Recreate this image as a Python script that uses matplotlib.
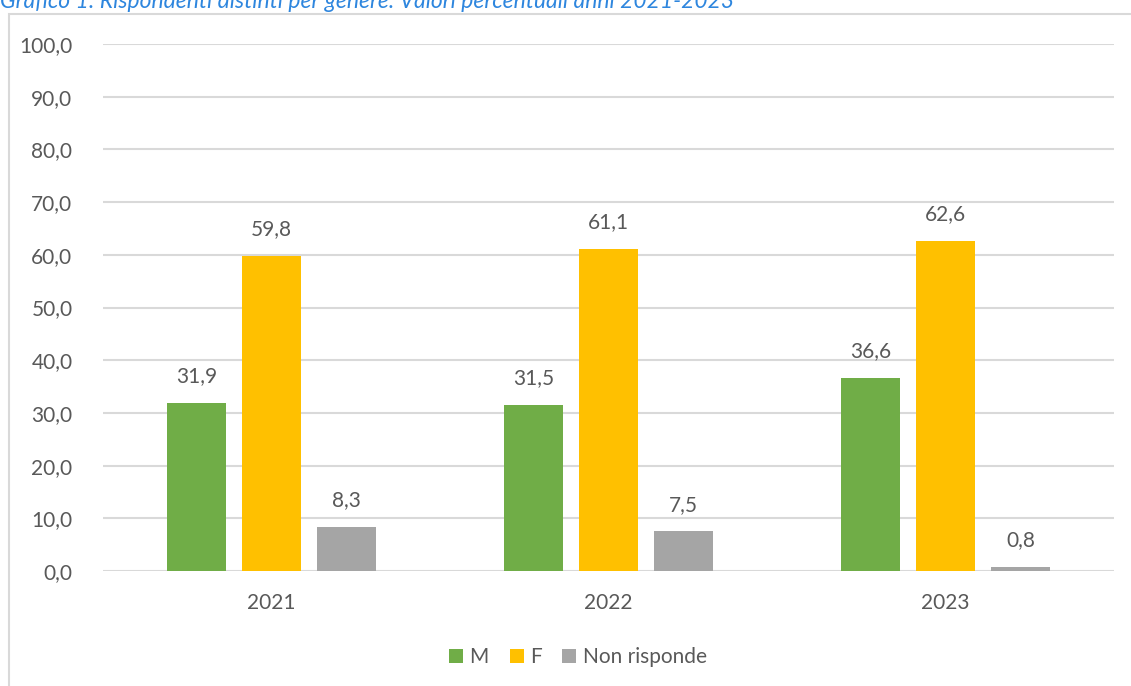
import matplotlib
matplotlib.use("Agg")
import matplotlib.pyplot as plt
from matplotlib.patches import Rectangle, Patch
import numpy as np

# Data
years = ["2021", "2022", "2023"]
series_names = ["M", "F", "Non risponde"]
m_vals = [31.9, 31.5, 36.6]
f_vals = [59.8, 61.1, 62.6]
nr_vals = [8.3, 7.5, 0.8]
y_ticks = [0, 10, 20, 30, 40, 50, 60, 70, 80, 90, 100]
title = "Grafico 1: Rispondenti distinti per genere. Valori percentuali anni 2021-2023"

colors = ["#70AD47", "#FFC000", "#A5A5A5"]
text_color = "#595959"
grid_color = "#D9D9D9"
fs = 15

plt.rcParams["font.family"] = ["Lato", "DejaVu Sans"]

W, H = 1131, 686
fig = plt.figure(figsize=(W / 100, H / 100), dpi=100)

# chart frame
fig.patches.append(Rectangle((9 / W, -0.1), 1.2, (H - 14) / H + 0.1,
                             transform=fig.transFigure, fill=False,
                             edgecolor=grid_color, linewidth=1.5))

# title, running over the top edge
fig.text(0.0, 1 - 8.5 / H, title, ha="left", va="baseline",
         fontsize=16.5, style="italic", color="#2E86DE")

ax = fig.add_axes([103 / W, 1 - 571 / H, (1114 - 103) / W, (571 - 44) / H])

def fmt(v):
    return f"{v:.1f}".replace(".", ",")

x = np.arange(len(years))
width = 0.175
step = 0.222
all_vals = [m_vals, f_vals, nr_vals]
for i, (vals, name, c) in enumerate(zip(all_vals, series_names, colors)):
    pos = x + (i - 1) * step
    bars = ax.bar(pos, vals, width=width, color=c, label=name, zorder=3)
    for b, v in zip(bars, vals):
        ax.annotate(fmt(v), (b.get_x() + b.get_width() / 2, v),
                    xytext=(0, 12), textcoords="offset points",
                    ha="center", va="bottom", fontsize=fs, color=text_color)

ax.set_xlim(-0.5, 2.5)
ax.set_ylim(0, 100)
ax.set_yticks(y_ticks)
ax.set_yticklabels([fmt(t) for t in y_ticks])
ax.set_xticks(x)
ax.set_xticklabels(years)
ax.tick_params(axis="both", length=0, labelsize=fs, labelcolor=text_color)
ax.tick_params(axis="y", pad=22)
ax.tick_params(axis="x", pad=16)
ax.grid(axis="y", color=grid_color, linewidth=1.5, zorder=0)
for s in ax.spines.values():
    s.set_visible(False)

handles = [Patch(facecolor=c, edgecolor="none") for c in colors]
fig.legend(handles, series_names, loc="center", bbox_to_anchor=(578 / W, 1 - 657 / H),
           ncol=3, frameon=False, fontsize=fs, labelcolor=text_color,
           handlelength=0.67, handleheight=0.67, handletextpad=0.3, columnspacing=1.0)

fig.savefig("out.png", dpi=100)
